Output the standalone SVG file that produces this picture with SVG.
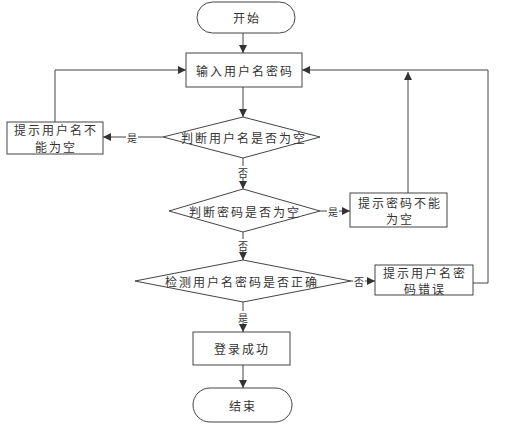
<svg xmlns="http://www.w3.org/2000/svg" width="510" height="434" viewBox="0 0 510 434">
<style>
.shape{fill:#fff;stroke:#444;stroke-width:1}
.t{font-family:"Noto Sans CJK SC","Liberation Serif",serif;font-size:12px;fill:#333;letter-spacing:2px;text-anchor:middle;dominant-baseline:central}
.lbl{font-family:"Noto Sans CJK SC","Liberation Serif",serif;font-size:10px;fill:#333;text-anchor:middle;dominant-baseline:central}
.c{fill:none;stroke:#444;stroke-width:1}
</style>
<defs>
<marker id="ah" viewBox="0 0 10 10" refX="10" refY="5" markerWidth="8" markerHeight="8" markerUnits="userSpaceOnUse" orient="auto">
<path d="M0,0 L10,5 L0,10 z" fill="#333"/>
</marker>
</defs>
<rect width="510" height="434" fill="#fff"/>
<g id="connectors">
<path class="c" d="M243,33 V53" marker-end="url(#ah)"/>
<path class="c" d="M243,87 V117" marker-end="url(#ah)"/>
<path class="c" d="M163,137 H103" marker-end="url(#ah)"/>
<path class="c" d="M55,122 V70 H186" marker-end="url(#ah)"/>
<path class="c" d="M243,158 V189" marker-end="url(#ah)"/>
<path class="c" d="M320,211 H350" marker-end="url(#ah)"/>
<path class="c" d="M408,193 V72" marker-end="url(#ah)"/>
<path class="c" d="M243,232 V260" marker-end="url(#ah)"/>
<path class="c" d="M351,281 H375" marker-end="url(#ah)"/>
<path class="c" d="M473,283 H488 V70 H302" marker-end="url(#ah)"/>
<path class="c" d="M243,302 V332" marker-end="url(#ah)"/>
<path class="c" d="M243,365 V388" marker-end="url(#ah)"/>
<rect x="126" y="131" width="12" height="12" fill="#fff"/>
<text class="lbl" x="132" y="137">是</text>
<rect x="237" y="166" width="12" height="12" fill="#fff"/>
<text class="lbl" x="243" y="172">否</text>
<rect x="327" y="205" width="12" height="12" fill="#fff"/>
<text class="lbl" x="333" y="211">是</text>
<rect x="237" y="239" width="12" height="12" fill="#fff"/>
<text class="lbl" x="243" y="245">否</text>
<rect x="353" y="275" width="12" height="12" fill="#fff"/>
<text class="lbl" x="359" y="281">否</text>
<rect x="237" y="311" width="12" height="12" fill="#fff"/>
<text class="lbl" x="243" y="317">是</text>
</g>
<g id="start">
<rect class="shape" x="197" y="2" width="98" height="31" rx="15.5"/>
<text class="t" x="247" y="17.5">开始</text>
</g>
<g id="input">
<rect class="shape" x="186" y="53" width="116" height="34"/>
<text class="t" x="245" y="70">输入用户名密码</text>
</g>
<g id="d1">
<polygon class="shape" points="243,117 320,137 243,158 163,137"/>
<text class="t" x="244" y="137">判断用户名是否为空</text>
</g>
<g id="err1">
<rect class="shape" x="7" y="122" width="96" height="32"/>
<text class="t" x="56" y="129.5">提示用户名不</text>
<text class="t" x="56" y="146">能为空</text>
</g>
<g id="d2">
<polygon class="shape" points="243,189 320,211 243,232 169,211"/>
<text class="t" x="245" y="211">判断密码是否为空</text>
</g>
<g id="err2">
<rect class="shape" x="350" y="193" width="97" height="34"/>
<text class="t" x="400" y="202">提示密码不能</text>
<text class="t" x="400" y="218">为空</text>
</g>
<g id="d3">
<polygon class="shape" points="243,260 351,281 243,302 135,281"/>
<text class="t" x="242" y="281">检测用户名密码是否正确</text>
</g>
<g id="err3">
<rect class="shape" x="375" y="265" width="98" height="30"/>
<text class="t" x="425" y="272">提示用户名密</text>
<text class="t" x="425" y="288">码错误</text>
</g>
<g id="success">
<rect class="shape" x="193" y="332" width="97" height="33"/>
<text class="t" x="242" y="348.5">登录成功</text>
</g>
<g id="end">
<rect class="shape" x="193" y="388" width="99" height="34" rx="17"/>
<text class="t" x="243" y="405">结束</text>
</g>
</svg>
